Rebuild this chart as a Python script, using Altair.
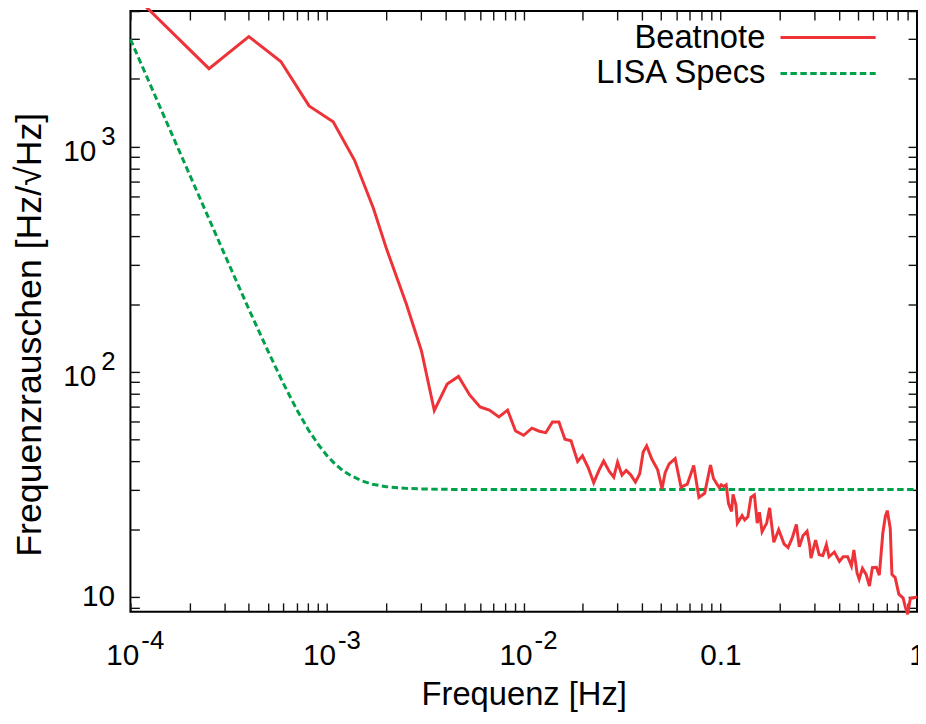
import altair as alt
import pandas as pd

# ---------------- data ----------------
beat_freq = [
    1.0e-4, 2.51e-4, 4.0e-4, 5.82e-4, 8.10e-4, 1.074e-3, 1.38e-3, 1.72e-3, 2.01e-3, 2.53e-3,
    3.02e-3, 3.51e-3, 4.08e-3, 4.66e-3, 5.31e-3, 6.0e-3, 6.69e-3, 7.48e-3, 8.28e-3, 9.09e-3,
    1.0e-2, 1.10e-2, 1.20e-2, 1.295e-2, 1.40e-2, 1.51e-2, 1.62e-2, 1.74e-2, 1.88e-2, 1.99e-2,
    2.13e-2, 2.27e-2, 2.41e-2, 2.55e-2, 2.72e-2, 2.87e-2, 3.0e-2, 3.16e-2, 3.32e-2, 3.50e-2,
    3.70e-2, 3.89e-2, 4.05e-2, 4.22e-2, 4.48e-2, 4.80e-2, 5.05e-2, 5.24e-2, 5.49e-2, 5.89e-2,
    6.31e-2, 6.79e-2, 7.32e-2, 7.78e-2, 8.32e-2, 8.91e-2, 9.23e-2, 9.62e-2, 9.87e-2, 0.101,
    0.104, 0.107, 0.110, 0.114, 0.116, 0.120, 0.122, 0.129, 0.133, 0.138,
    0.143, 0.149, 0.154, 0.158, 0.163, 0.172, 0.178, 0.187, 0.198, 0.211,
    0.221, 0.232, 0.2435, 0.252, 0.263, 0.276, 0.2845, 0.289, 0.305, 0.318,
    0.332, 0.346, 0.357, 0.380, 0.403, 0.421, 0.444, 0.464, 0.4775, 0.4955,
    0.508, 0.528, 0.551, 0.573, 0.593, 0.621, 0.643, 0.670, 0.690, 0.706,
    0.731, 0.7455, 0.7745, 0.8085, 0.850, 0.873, 0.896, 0.925, 1.0,
]
beat_value = [
    4885, 2220, 3080, 2390, 1517, 1291, 870, 533, 350, 200,
    124, 67.4, 88.3, 95.4, 79.0, 69.8, 67.6, 63.1, 67.6, 54.6,
    52.3, 56.2, 54.5, 53.7, 59.9, 59.9, 50.2, 49.4, 40.0, 42.4,
    37.5, 32.2, 36.4, 40.2, 36.2, 34.1, 39.7, 34.8, 36.5, 34.9,
    32.4, 35.3, 44.1, 46.9, 41.0, 36.7, 30.3, 35.7, 39.0, 41.2,
    30.8, 31.7, 38.4, 27.7, 28.9, 38.6, 33.6, 31.7, 30.6, 31.5,
    31.0, 31.5, 26.0, 24.0, 28.6, 25.6, 21.3, 23.0, 22.0, 22.7,
    27.7, 28.4, 21.3, 23.8, 19.5, 21.3, 24.9, 17.5, 19.9, 17.2,
    16.6, 18.3, 21.0, 16.7, 18.7, 19.6, 17.0, 14.9, 17.9, 15.4,
    15.3, 17.1, 15.1, 15.85, 14.4, 15.1, 15.1, 13.75, 16.2, 12.8,
    12.0, 13.4, 12.6, 11.2, 13.5, 13.55, 12.5, 19.2, 22.8, 24.2,
    20.2, 12.6, 12.2, 10.3, 9.9, 8.99, 8.38, 9.85, 10.0,
]
lisa_freq = [
    1.0e-4, 1.5e-4, 2.0e-4, 3.0e-4, 4.0e-4, 5.0e-4, 6.0e-4, 7.0e-4, 8.0e-4, 9.0e-4,
    1.0e-3, 1.1e-3, 1.2e-3, 1.3e-3, 1.5e-3, 1.7e-3, 2.0e-3, 2.5e-3, 3.0e-3, 5.0e-3,
    1.0e-2, 0.1, 1.0,
]
lisa_value = [
    3000, 1333, 751, 335, 190, 124, 88.6, 68.2, 55.6, 47.7,
    42.4, 38.9, 36.5, 34.9, 32.8, 31.7, 30.9, 30.4, 30.2, 30.0,
    30.0, 30.0, 30.0,
]
series_names = ["Beatnote", "LISA Specs"]
x_label_values = [1e-4, 1e-3, 1e-2, 0.1, 1.0]
x_exp_values = [1e-4, 1e-3, 1e-2]
y_label_values = [10, 100, 1000]
y_exp_values = [100, 1000]
x_tick_values = [m * 10.0 ** e for e in (-4, -3, -2, -1) for m in range(1, 10)] + [1.0]
y_tick_values = [9] + [m * 10.0 ** e for e in (1, 2) for m in range(1, 10)] + [1000, 2000, 3000, 4000]

# ---------------- styling ----------------
W, H = 793.5, 606
FONT = "Liberation Sans"
RED = "#ee3338"
GREEN = "#00a14b"
TICK = 9

beat_df = pd.DataFrame({"f": beat_freq, "v": beat_value})
lisa_df = pd.DataFrame({"f": lisa_freq, "v": lisa_value})

xs = alt.Scale(type="log", domain=[1e-4, 1.0], nice=False)
ys = alt.Scale(type="log", domain=[8.6, 4000], nice=False)

is_pow_x = "datum.value < 0.05"
is_pow_y = "datum.value > 50"

x_main = alt.Axis(
    orient="bottom",
    values=x_label_values,
    labelExpr="datum.value < 0.05 ? '10' : (datum.value < 0.5 ? '0.1' : '1')",
    ticks=False, tickSize=0, domain=False, grid=False,
    labelFont=FONT, labelFontSize=30, labelColor="black",
    labelBaseline="alphabetic", labelPadding=53,
    labelAlign={"condition": {"test": is_pow_x, "value": "right"}, "value": "center"},
    labelOffset={"condition": {"test": is_pow_x, "value": 8.5}, "value": 0},
    labelFlush=False, labelOverlap=False,
    title="Frequenz [Hz]", titleFont=FONT, titleFontSize=33, titleFontWeight="normal",
    titleColor="black", titleX=W / 2, titleY=94, titleBaseline="alphabetic",
)
x_exp = alt.Axis(
    orient="bottom",
    values=x_exp_values,
    labelExpr="'' + round(log(datum.value) / LN10)",
    ticks=False, tickSize=0, domain=False, grid=False,
    labelFont=FONT, labelFontSize=26, labelColor="black",
    labelBaseline="alphabetic", labelPadding=37, labelAlign="left", labelOffset=10.5,
    labelFlush=False, labelOverlap=False, title=None,
)
y_main = alt.Axis(
    orient="left",
    values=y_label_values,
    labelExpr="'10'",
    ticks=False, tickSize=0, domain=False, grid=False,
    labelFont=FONT, labelFontSize=30, labelColor="black",
    labelBaseline="middle", labelAlign="right",
    labelPadding={"condition": {"test": is_pow_y, "value": 35}, "value": 16},
    labelOffset={"condition": {"test": is_pow_y, "value": 5}, "value": 0},
    labelFlush=False, labelOverlap=False,
    title="Frequenzrauschen [Hz/√Hz]", titleFont=FONT, titleFontSize=36,
    titleFontWeight="normal", titleColor="black", titleX=-91, titleY=326,
    titleBaseline="alphabetic", titleAngle=270,
)
y_exp = alt.Axis(
    orient="left",
    values=y_exp_values,
    labelExpr="'' + round(log(datum.value) / LN10)",
    ticks=False, tickSize=0, domain=False, grid=False,
    labelFont=FONT, labelFontSize=26, labelColor="black",
    labelBaseline="middle", labelAlign="right", labelPadding=15.5, labelOffset=-10,
    labelFlush=False, labelOverlap=False, title=None,
)


def tick_axis(values, orient, offset):
    return alt.Axis(
        values=values, orient=orient, offset=offset, labels=False, domain=False,
        grid=False, ticks=True, tickSize=TICK, tickColor="#111111", tickWidth=1.4,
        title=None,
    )


beat = alt.Chart(beat_df).mark_line(color=RED, strokeWidth=3).encode(
    x=alt.X("f:Q", scale=xs, axis=x_main),
    y=alt.Y("v:Q", scale=ys, axis=y_main),
)
lisa = alt.Chart(lisa_df).mark_line(color=GREEN, strokeWidth=3, strokeDash=[6.5, 3.5]).encode(
    x=alt.X("f:Q", scale=xs, axis=x_exp),
    y=alt.Y("v:Q", scale=ys, axis=y_exp),
)
ticks_a = alt.Chart(lisa_df).mark_line(opacity=0).encode(
    x=alt.X("f:Q", scale=xs, axis=tick_axis(x_tick_values, "top", -H)),
    y=alt.Y("v:Q", scale=ys, axis=tick_axis(y_tick_values, "right", -W)),
)
ticks_b = alt.Chart(lisa_df).mark_line(opacity=0).encode(
    x=alt.X("f:Q", scale=xs, axis=tick_axis(x_tick_values, "bottom", -H)),
    y=alt.Y("v:Q", scale=ys, axis=tick_axis(y_tick_values, "left", -W)),
)

# legend (gnuplot style: label on the left, line sample on the right)
legend_layers = []
text_y = [37.5, 73]
line_y = [26.7, 63]
dashes = [[1, 0], [6.5, 3.5]]
colors = [RED, GREEN]
for i, name in enumerate(series_names):
    ldf = pd.DataFrame({"series": [name]})
    legend_layers.append(
        alt.Chart(ldf).mark_text(
            align="right", baseline="alphabetic", font=FONT, fontSize=33, color="black"
        ).encode(text="series:N", x=alt.value(640.5), y=alt.value(text_y[i]))
    )
    legend_layers.append(
        alt.Chart(ldf).mark_rule(color=colors[i], strokeWidth=3, strokeDash=dashes[i]).encode(
            x=alt.value(655.8), x2=alt.value(751.8), y=alt.value(line_y[i])
        )
    )

chart = (
    alt.layer(ticks_a, ticks_b, lisa, beat, *legend_layers)
    .resolve_axis(x="independent", y="independent")
    .properties(
        width=W, height=H,
        padding={"left": 123.5, "top": 0, "right": 1, "bottom": 102},
        autosize=alt.AutoSizeParams(type="none"),
    )
    .configure_view(stroke="black", strokeWidth=2)
)

chart.save("out.html", embed_options={"renderer": "svg", "actions": False})
